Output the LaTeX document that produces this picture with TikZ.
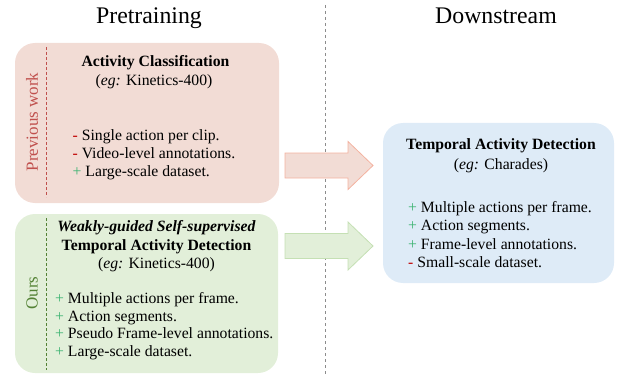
\documentclass[tikz,border=0pt]{standalone}
\usepackage{fontspec}
\setmainfont{Liberation Serif}

\definecolor{pinkbg}{RGB}{242,220,213}
\definecolor{pinkedge}{RGB}{244,178,160}
\definecolor{greenbg}{RGB}{226,239,217}
\definecolor{greenedge}{RGB}{197,224,180}
\definecolor{bluebg}{RGB}{222,235,247}
\definecolor{redlab}{RGB}{192,80,77}
\definecolor{greenlab}{RGB}{84,130,53}
\definecolor{plusgreen}{RGB}{60,179,113}
\definecolor{minusred}{RGB}{192,0,0}

\newcommand{\goodpt}{\textcolor{plusgreen}{+}}
\newcommand{\badpt}{\textcolor{minusred}{-}}

\begin{document}
\begin{tikzpicture}[
  x=1pt,y=-1pt,
  panel/.style={rounded corners=20pt,inner sep=0pt},
  body/.style={font=\fontsize{15.7}{18.3}\selectfont,inner sep=0pt},
  head/.style={font=\fontsize{23.8}{28}\selectfont,inner sep=0pt},
  side/.style={font=\fontsize{17}{20}\selectfont,rotate=90,inner sep=0pt},
  fatarrow/.style={line width=0.8pt,line join=miter}
]
  \useasboundingbox (0,0) rectangle (618,377);

  % column titles and divider
  \node[head,anchor=base] (pretrain) at (149,23.3) {Pretraining};
  \node[head,anchor=base] (downstream) at (496,23.3) {Downstream};
  \coordinate (divtop) at (325,5);
  \coordinate (divbot) at (325,377);
  \draw[black!45,line width=0.7pt,dash pattern=on 3pt off 3pt] (divtop) -- (divbot);

  % panels
  \node[panel,fill=pinkbg,minimum width=264,minimum height=160] (prevbox) at (147,123) {};
  \node[panel,fill=greenbg,minimum width=263,minimum height=159] (oursbox) at (146.5,293.5) {};
  \node[panel,fill=bluebg,minimum width=231,minimum height=160] (downbox) at (498.5,203) {};

  % block arrows
  \foreach \yc/\col in {165.5/pink,246/green}
    \draw[fatarrow,draw=\col edge,fill=\col bg]
      (285,\yc-12.5) -- (348,\yc-12.5) -- (348,\yc-24) -- (373,\yc)
      -- (348,\yc+24) -- (348,\yc+12.5) -- (285,\yc+12.5) -- cycle;

  % previous work
  \coordinate (prevtop) at (46,47);
  \coordinate (prevbot) at (46,197);
  \draw[redlab,line width=0.6pt,dash pattern=on 3pt off 2pt] (prevtop) -- (prevbot);
  \node[side,text=redlab] (prevlab) at (32,122) {Previous work};
  \node[body,anchor=base] (prevtitle) at (155.5,67) {\textbf{Activity Classification}};
  \node[body,anchor=base] (preveg) at (154,86) {(\textit{eg:} Kinetics-400)};
  \foreach \sgn/\txt [count=\i from 0] in {\badpt/Single action per clip.,
      \badpt/Video-level annotations.,\goodpt/Large-scale dataset.}
    \node[body,anchor=base west] (prev\i) at (72.5,140+18.4*\i) {\sgn{} \txt};

  % ours
  \coordinate (ourstop) at (46.5,218);
  \coordinate (oursbot) at (46.5,370);
  \draw[greenlab,line width=0.6pt,dash pattern=on 3pt off 2pt] (ourstop) -- (oursbot);
  \node[side,text=greenlab] (ourslab) at (32,293) {Ours};
  \node[body,anchor=base] (ourstitle) at (156.5,231.7) {\textbf{\textit{Weakly-guided Self-supervised}}};
  \node[body,anchor=base] (ourssub) at (156.5,250) {\textbf{Temporal Activity Detection}};
  \node[body,anchor=base] (ourseg) at (156.5,268.3) {(\textit{eg:} Kinetics-400)};
  \foreach \sgn/\txt [count=\i from 0] in {\goodpt/Multiple actions per frame.,
      \goodpt/Action segments.,\goodpt/Pseudo Frame-level annotations.,
      \goodpt/Large-scale dataset.}
    \node[body,anchor=base west] (ours\i) at (55,303.3+17.8*\i) {\sgn{} \txt};

  % downstream
  \node[body,anchor=base] (downtitle) at (501,149.3) {\textbf{Temporal Activity Detection}};
  \node[body,anchor=base] (downeg) at (501,169.3) {(\textit{eg:} Charades)};
  \foreach \sgn/\txt [count=\i from 0] in {\goodpt/Multiple actions per frame.,
      \goodpt/Action segments.,\goodpt/Frame-level annotations.,
      \badpt/Small-scale dataset.}
    \node[body,anchor=base west] (down\i) at (408,212.7+18.2*\i) {\sgn{} \txt};
\end{tikzpicture}
\end{document}
